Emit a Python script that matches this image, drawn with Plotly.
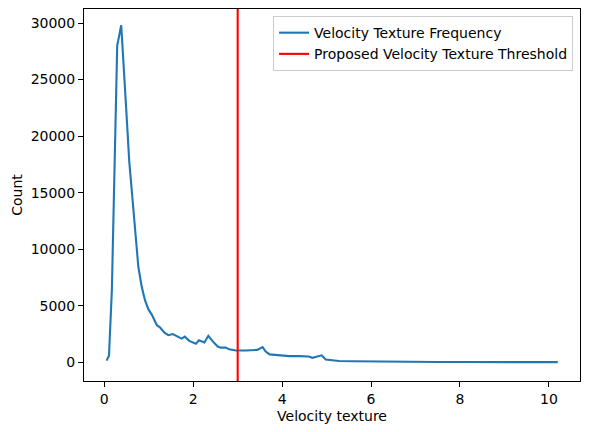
import plotly.graph_objects as go

# Velocity texture histogram (bin centres) and counts
velocity_texture = [0.05, 0.105, 0.17, 0.24, 0.29, 0.38, 0.44, 0.50, 0.56, 0.62,
                    0.69, 0.765, 0.84, 0.915, 0.99, 1.07, 1.18, 1.25, 1.36, 1.44,
                    1.54, 1.67, 1.74, 1.81, 1.91, 2.06, 2.13, 2.25, 2.34, 2.43,
                    2.55, 2.62, 2.73, 2.81, 2.96, 3.18, 3.33, 3.44, 3.56, 3.63,
                    3.72, 3.93, 4.08, 4.16, 4.38, 4.60, 4.68, 4.83, 4.89, 4.98,
                    5.13, 5.28, 5.58, 6.18, 6.5, 7.0, 7.5, 8.0, 9.0, 10.2]
counts = [150, 580, 6400, 17500, 28000, 29800, 26300, 21900, 17800, 15000,
          11400, 8450, 6700, 5500, 4700, 4200, 3300, 3100, 2600, 2400,
          2500, 2270, 2100, 2270, 1900, 1650, 1950, 1750, 2350, 1900,
          1400, 1300, 1300, 1150, 1050, 1050, 1050, 1100, 1350, 950,
          700, 620, 620, 550, 550, 520, 400, 550, 620, 250,
          200, 120, 100, 60, 50, 40, 30, 25, 20, 15]

threshold = 3.0
x_range = [-0.457, 10.70]
y_range = [-1650, 31240]

x_ticks = [0, 2, 4, 6, 8, 10]
x_tick_labels = ["0", "2", "4", "6", "8", "10"]
y_ticks = [0, 5000, 10000, 15000, 20000, 25000, 30000]
y_tick_labels = ["0", "5000", "10000", "15000", "20000", "25000", "30000"]

font = "DejaVu Sans"

fig = go.Figure()
fig.add_trace(go.Scatter(
    x=velocity_texture, y=counts, mode="lines",
    name="Velocity Texture Frequency",
    line=dict(color="#1f77b4", width=2.1),
))
fig.add_trace(go.Scatter(
    x=[threshold, threshold], y=y_range, mode="lines",
    name="Proposed Velocity Texture Threshold",
    line=dict(color="red", width=2.1),
))

axis_common = dict(
    showgrid=False, zeroline=False, showline=True, mirror=True,
    linecolor="black", linewidth=1, ticks="outside", ticklen=5,
    tickwidth=1, tickcolor="black", automargin=False,
    tickfont=dict(family=font, size=14, color="black"),
)

fig.update_layout(
    width=589, height=432,
    margin=dict(l=84, r=9, t=9, b=51),
    plot_bgcolor="white", paper_bgcolor="white",
    font=dict(family=font, size=14, color="black"),
    xaxis=dict(range=x_range, tickvals=x_ticks, ticktext=x_tick_labels,
               title=dict(text="Velocity texture", font=dict(family=font, size=14), standoff=5),
               **axis_common),
    yaxis=dict(range=y_range, tickvals=y_ticks, ticktext=y_tick_labels,
               title=dict(text="Count", font=dict(family=font, size=14), standoff=4),
               **axis_common),
    legend=dict(x=0.986, y=0.981, xanchor="right", yanchor="top",
                bgcolor="rgba(255,255,255,0.8)", bordercolor="#cccccc",
                borderwidth=1, font=dict(family=font, size=14),
                tracegroupgap=0),
    showlegend=True,
)

fig.write_html("out.html",
               config={"displayModeBar": False},
               post_script="document.body.style.margin='0px';document.body.style.padding='0px';")
